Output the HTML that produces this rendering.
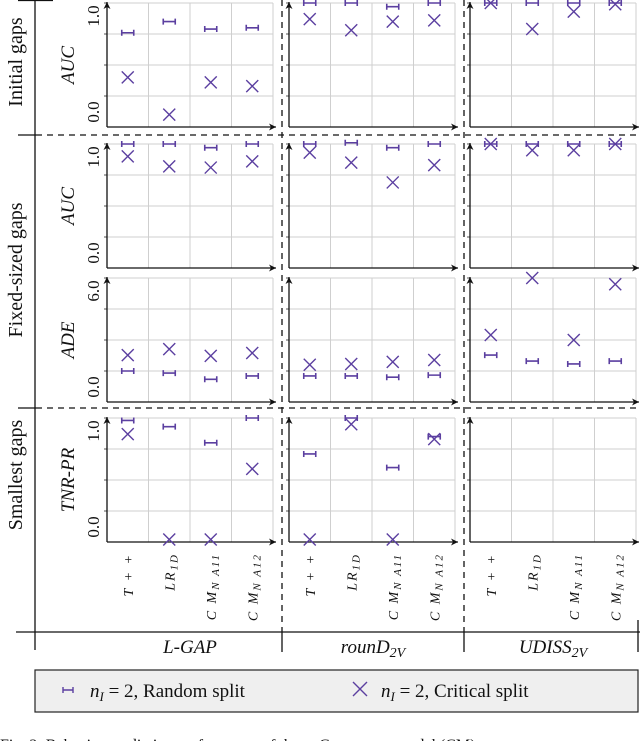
<!DOCTYPE html>
<html><head><meta charset="utf-8"><style>
html,body{margin:0;padding:0;background:#fff;width:640px;height:741px;overflow:hidden}
svg{display:block}
text{font-family:"Liberation Serif",serif;fill:#111}
</style></head><body>
<svg id="chart" width="640" height="741" viewBox="0 0 640 741" xmlns="http://www.w3.org/2000/svg">
<defs><marker id="ah" markerWidth="8" markerHeight="8" refX="7" refY="4" orient="auto" markerUnits="userSpaceOnUse"><path d="M0,0.5 L7,4 L0,7.5 L2,4 Z" fill="#111"/></marker></defs>
<g id="frame"></g>
<g id="panels"></g>
<g id="legend">
<rect x="35" y="670" width="603" height="42" fill="#efefef" stroke="#222" stroke-width="1.2"/>
<g>
<path d="M63,690 h10 M63,687 v6 M73,687 v6" stroke="#5b3fa0" stroke-width="1.4" fill="none"/>
<text x="90" y="697" font-size="19"><tspan font-style="italic">n</tspan><tspan font-style="italic" font-size="13" dy="4">I</tspan><tspan dy="-4"> = 2, Random split</tspan></text>
</g>
<g>
<path d="M353,682 l14,14 M367,682 l-14,14" stroke="#5b3fa0" stroke-width="1.4"/>
<text x="381" y="697" font-size="19"><tspan font-style="italic">n</tspan><tspan font-style="italic" font-size="13" dy="4">I</tspan><tspan dy="-4"> = 2, Critical split</tspan></text>
</g>
</g>
<text x="0" y="750" font-size="16">Fig. 2: Behavior prediction performance of the ... Constant ... model (CM)</text>
</svg>
<script>
const categories = ["T++", "LR1D", "CMNA11", "CMNA12"];
const datasets = ["L-GAP", "rounD2V", "UDISS2V"];
const rowMetrics = ["AUC", "AUC", "ADE", "TNR-PR"];
const rowMax = [1, 1, 6, 1];
const rowTickLabels = [["0.0","1.0"],["0.0","1.0"],["0.0","6.0"],["0.0","1.0"]];
// random split values [row][dataset][category]
const randomInitial = [[0.76,0.85,0.79,0.80],[1.0,1.0,0.97,1.0],[1.0,1.0,1.0,1.0]];
const randomFixedAUC = [[1.0,1.0,0.97,1.0],[1.0,1.01,0.97,1.0],[1.0,1.0,1.0,1.0]];
const randomFixedADE = [[1.5,1.4,1.1,1.26],[1.26,1.26,1.2,1.3],[2.27,1.98,1.84,1.98]];
const randomSmallest = [[0.98,0.93,0.8,1.0],[0.71,1.0,0.6,0.85],[null,null,null,null]];
// critical split values
const criticalInitial = [[0.40,0.10,0.36,0.33],[0.87,0.78,0.85,0.86],[1.0,0.79,0.93,0.99]];
const criticalFixedAUC = [[0.90,0.82,0.81,0.86],[0.93,0.85,0.69,0.83],[1.0,0.95,0.95,1.0]];
const criticalFixedADE = [[2.27,2.56,2.23,2.37],[1.8,1.84,1.94,2.03],[3.24,6.0,3.0,5.7]];
const criticalSmallest = [[0.87,0.02,0.02,0.59],[0.02,0.95,0.02,0.83],[null,null,null,null]];

const randomRows = [randomInitial, randomFixedAUC, randomFixedADE, randomSmallest];
const criticalRows = [criticalInitial, criticalFixedAUC, criticalFixedADE, criticalSmallest];

const NS = "http://www.w3.org/2000/svg";
const C = "#5b3fa0";
function mk(tag, attrs, parent){const e=document.createElementNS(NS,tag);for(const k in attrs)e.setAttribute(k,attrs[k]);parent.appendChild(e);return e;}
const colX0 = [107, 289, 470];
const colW = 166;
const rowBottom = [127, 268, 402, 542];
const rowH = 124;
function xPos(c, i){return colX0[c] + colW/4*(i+0.5);}
function yPos(r, v){return rowBottom[r] - v/rowMax[r]*rowH;}

const panels = document.getElementById("panels");
const frame = document.getElementById("frame");
for(let r=0;r<4;r++){
  for(let c=0;c<3;c++){
    const g = mk("g",{},panels);
    
    
    const x0=colX0[c], x1=x0+colW, yb=rowBottom[r], yt=yb-rowH;
    for(let k=1;k<=4;k++){
      const gx=x0+colW/4*k;
      const l=mk("line",{x1:gx,y1:yt,x2:gx,y2:yb,stroke:"#cfcfcf","stroke-width":1},g);
      
      
    }
    for(let k=1;k<=4;k++){
      const gy=yb-rowH/4*k;
      const l=mk("line",{x1:x0,y1:gy,x2:x1,y2:gy,stroke:"#cfcfcf","stroke-width":1},g);
      
      
      mk("line",{x1:x0-3,y1:gy,x2:x0,y2:gy,stroke:"#555","stroke-width":1},g);
    }
    const ya=mk("line",{x1:x0,y1:yb,x2:x0,y2:yt-1,stroke:"#111","stroke-width":1.3,"marker-end":"url(#ah)"},g);
    
    
    const xa=mk("line",{x1:x0,y1:yb,x2:x1+3,y2:yb,stroke:"#111","stroke-width":1.3,"marker-end":"url(#ah)"},g);
    
    
    if(c===0){
      const t0=mk("text",{transform:`translate(99,${yb-15}) rotate(-90)`,"font-size":17,"text-anchor":"middle"},g);
      t0.textContent=rowTickLabels[r][0];
      
      
      const t1=mk("text",{transform:`translate(99,${yt+13}) rotate(-90)`,"font-size":17,"text-anchor":"middle"},g);
      t1.textContent=rowTickLabels[r][1];
      
      
      const yt2=mk("text",{transform:`translate(74,${yb-rowH/2}) rotate(-90)`,"font-size":19,"font-style":"italic","text-anchor":"middle"},g);
      yt2.textContent=rowMetrics[r];
      
      
    }
    for(let i=0;i<4;i++){
      const rv=randomRows[r][c][i];
      if(rv!==null){
        const x=xPos(c,i), y=yPos(r,rv);
        const m=mk("path",{d:`M${x-6},${y} h12 M${x-6},${y-3} v6 M${x+6},${y-3} v6`,stroke:C,"stroke-width":1.6,fill:"none"},g);
        
        
      }
      const cv=criticalRows[r][c][i];
      if(cv!==null){
        const x=xPos(c,i), y=yPos(r,cv);
        const m=mk("path",{d:`M${x-6},${y-6} l12,12 M${x+6},${y-6} l-12,12`,stroke:C,"stroke-width":1.4},g);
        
        
      }
    }
  }
}
// category labels
for(let c=0;c<3;c++){
  for(let i=0;i<4;i++){
    const t=mk("text",{transform:`translate(${xPos(c,i)+5},553) rotate(-90)`,"font-size":14,"font-style":"italic","text-anchor":"end","letter-spacing":"2"},panels);
    const base=categories[i];
    if(i===0){t.textContent="T + +";}
    else{
      const main = i===1?"LR":"C M";
      const sub = i===1?"1D":(i===2?"N A11":"N A12");
      const a=mk("tspan",{},t); a.textContent=main;
      const b=mk("tspan",{dy:3,"font-size":11},t); b.textContent=sub;
    }
    
    
  }
}
// frame lines
function fl(a,name){const l=mk("line",a,frame);return l;}
fl({x1:35,y1:0,x2:35,y2:650,stroke:"#111","stroke-width":1.3},"row-group-axis");
fl({x1:18,y1:0.5,x2:53,y2:0.5,stroke:"#111","stroke-width":1.3},"row-separator-top");
fl({x1:18,y1:135,x2:36,y2:135,stroke:"#111","stroke-width":1.3},"row-separator-tick");
fl({x1:36,y1:135,x2:640,y2:135,stroke:"#111","stroke-width":1.3,"stroke-dasharray":"6,5"},"row-separator-1");
fl({x1:18,y1:408,x2:36,y2:408,stroke:"#111","stroke-width":1.3},"row-separator-tick");
fl({x1:36,y1:408,x2:640,y2:408,stroke:"#111","stroke-width":1.3,"stroke-dasharray":"6,5"},"row-separator-2");
fl({x1:282,y1:0,x2:282,y2:632,stroke:"#111","stroke-width":1.3,"stroke-dasharray":"6,5"},"col-separator-1");
fl({x1:464,y1:0,x2:464,y2:632,stroke:"#111","stroke-width":1.3,"stroke-dasharray":"6,5"},"col-separator-2");
fl({x1:16,y1:632,x2:640,y2:632,stroke:"#111","stroke-width":1.3},"dataset-axis");
fl({x1:282,y1:632,x2:282,y2:652,stroke:"#111","stroke-width":1.3},"dataset-tick");
fl({x1:464,y1:632,x2:464,y2:652,stroke:"#111","stroke-width":1.3},"dataset-tick");
fl({x1:638,y1:620,x2:638,y2:652,stroke:"#111","stroke-width":1.3},"dataset-tick");
const rowLabels=[["Initial gaps",62],["Fixed-sized gaps",270],["Smallest gaps",475]];
rowLabels.forEach(([s,y])=>{
  const t=mk("text",{transform:`translate(22,${y}) rotate(-90)`,"font-size":20,"text-anchor":"middle"},frame);
  t.textContent=s;
  
  
});
[["L-GAP",null,190],["rounD","2V",373],["UDISS","2V",553]].forEach(([m,s,x])=>{
  const t=mk("text",{x:x,y:653,"font-size":19,"font-style":"italic","text-anchor":"middle"},frame);
  const a=mk("tspan",{},t);a.textContent=m;
  if(s){const b=mk("tspan",{dy:4,"font-size":14},t);b.textContent=s;}
  
  
});
</script>
</body></html>
